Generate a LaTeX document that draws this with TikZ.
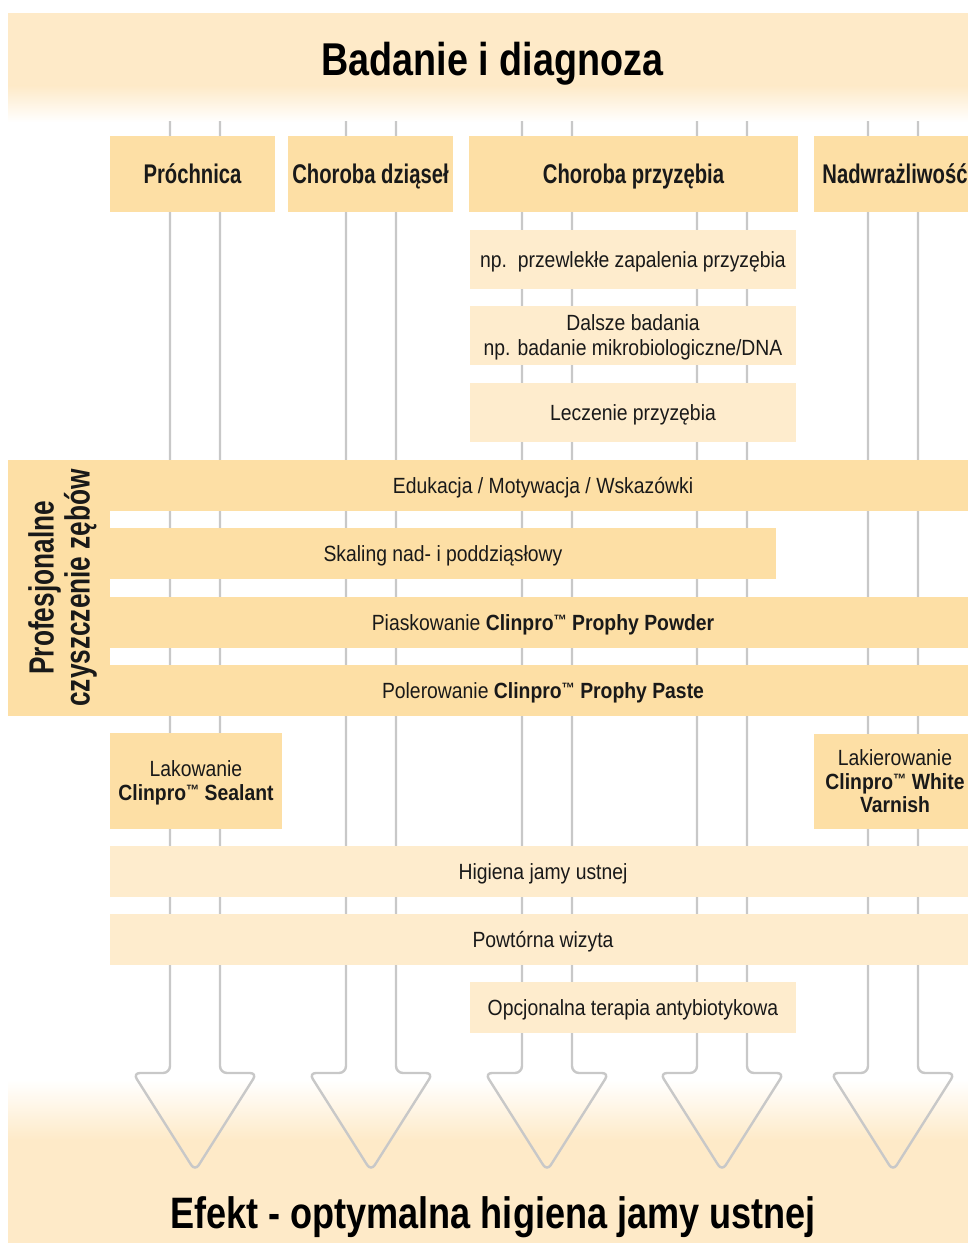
\documentclass[tikz,border=0pt]{standalone}
\usepackage{fontspec}
\setmainfont{Liberation Sans}[FakeStretch=0.88]
\newfontfamily\hdfont{Liberation Sans}[FakeStretch=0.75]
\newfontfamily\ttlfont{Liberation Sans}[FakeStretch=0.82]
\newcommand{\tmk}{\raisebox{5pt}{\fontsize{15}{15}\selectfont ™}}
\definecolor{peachS}{RGB}{253,223,165}
\definecolor{peachL}{RGB}{254,236,205}
\definecolor{bandc}{RGB}{254,234,200}
\definecolor{flowgray}{RGB}{200,200,200}
\definecolor{ink}{RGB}{25,25,25}
\begin{document}
\begin{tikzpicture}[x=1pt,y=-1pt,
  strong/.style={fill=peachS, inner sep=0pt, text=ink},
  light/.style={fill=peachL, inner sep=0pt, text=ink},
  oneline/.style={font=\fontsize{22}{25}\selectfont, text height=15.8pt, text depth=0pt},
  multiline/.style={align=center, text depth=0pt},
  head/.style={strong, font=\hdfont\bfseries\fontsize{27}{30}\selectfont, text height=19.4pt, text depth=0pt, minimum height=75.5pt},
  flow/.style={draw=flowgray, line width=2.4pt, rounded corners=7pt},
]
\useasboundingbox (0,0) rectangle (968,1243);
\fill[white] (0,0) rectangle (968,1243);
\clip (0,0) rectangle (968,1243);

% header band
\fill[bandc] (8,13) rectangle (968,86);
\shade[top color=bandc, bottom color=white] (8,85.5) rectangle (968,122);
% bottom band
\shade[top color=white, bottom color=bandc] (8,1080) rectangle (968,1140);
\fill[bandc] (8,1139.5) rectangle (968,1243);

% flow tubes with arrow heads
\foreach \c in {195,371,547,722,893} {
  \draw[flow] (\c-25,121) -- (\c-25,1073) -- (\c-62,1073) -- (\c,1171)
        -- (\c+62,1073) -- (\c+25,1073) -- (\c+25,121);
}

% titles
\node[font=\ttlfont\bfseries\fontsize{46}{50}\selectfont, anchor=base, text=black] (title) at (492.5,75) {Badanie i diagnoza};
\node[font=\ttlfont\bfseries\fontsize{44}{48}\selectfont, anchor=base, text=black] (efekt) at (493,1228) {Efekt - optymalna higiena jamy ustnej};

% category headers
\node[head, minimum width=165] (proch) at (192.5,173.75) {Próchnica};
\node[head, minimum width=165] (dzias) at (370.5,173.75) {Choroba dziąseł};
\node[head, minimum width=329] (przyz) at (633.5,173.75) {Choroba przyzębia};
\node[head, minimum width=162] (nadw) at (895,173.75) {Nadwrażliwość};

% periodontal sub-steps
\node[light, oneline, minimum width=326, minimum height=58.5] (np) at (633,259.4) {np.\ \ przewlekłe zapalenia przyzębia};
\node[light, multiline, font=\fontsize{22}{25}\selectfont, minimum width=326, minimum height=58.7] (dalsze) at (633,335.4) {Dalsze badania\\np. badanie mikrobiologiczne/DNA};
\node[light, oneline, minimum width=326, minimum height=58.7] (lecz) at (633,412.4) {Leczenie przyzębia};

% professional cleaning block
\node[strong, oneline, minimum width=866, minimum height=50.6] (edu) at (543,485.3) {Edukacja / Motywacja / Wskazówki};
\node[strong, oneline, minimum width=666, minimum height=50.3] (skal) at (443,553.6) {Skaling nad- i poddziąsłowy};
\node[strong, oneline, minimum width=866, minimum height=50.9] (piask) at (543,622.2) {Piaskowanie \textbf{Clinpro\tmk\ Prophy Powder}};
\node[strong, oneline, minimum width=866, minimum height=50.7] (poler) at (543,690.3) {Polerowanie \textbf{Clinpro\tmk\ Prophy Paste}};
\node[strong, multiline, rotate=90, font=\hdfont\bfseries\fontsize{35}{36}\selectfont, minimum width=255.7, minimum height=102] (prof) at (59,587.8) {Profesjonalne\\czyszczenie zębów};

% specific treatments
\node[strong, multiline, font=\fontsize{22}{24}\selectfont, minimum width=172, minimum height=96] (lak) at (196,781) {Lakowanie\\\textbf{Clinpro\tmk\ Sealant}};
\node[strong, multiline, font=\fontsize{22}{23.5}\selectfont, minimum width=162, minimum height=95] (lakier) at (895,781.5) {Lakierowanie\\\textbf{Clinpro\tmk\ White}\\\textbf{Varnish}};

% follow-up
\node[light, oneline, minimum width=866, minimum height=51] (hig) at (543,871.5) {Higiena jamy ustnej};
\node[light, oneline, minimum width=866, minimum height=51] (powt) at (543,939.5) {Powtórna wizyta};
\node[light, oneline, minimum width=326, minimum height=51] (opcj) at (633,1007.5) {Opcjonalna terapia antybiotykowa};
\end{tikzpicture}
\end{document}
